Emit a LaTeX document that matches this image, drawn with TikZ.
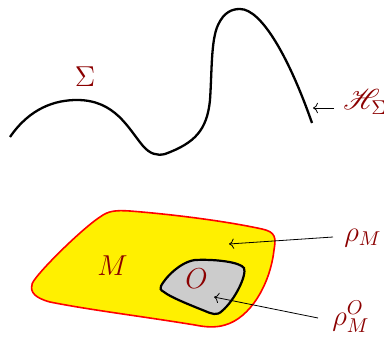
\documentclass[tikz,border=0pt]{standalone}
\usepackage{mathrsfs}
\usetikzlibrary{positioning, calc, arrows.meta}
\usepackage{xcolor}
\definecolor{labelred}{RGB}{139,0,0}
\definecolor{regionyellow}{RGB}{255,240,0}
\definecolor{regiongray}{RGB}{204,204,204}

\begin{document}
\begin{tikzpicture}[x=0.5pt, y=-0.5pt, font=\Large, >={To}]
  \useasboundingbox (0,0) rectangle (384,336);
  \tikzset{
    lbl/.style={labelred, inner sep=0pt, anchor=base west},
    pointer/.style={->, black, line width=0.4pt}
  }
  % the hypersurface Sigma
  \draw[black, line width=1.15pt]
    (10,137) .. controls (30,108) and (55,100) .. (77,100)
    .. controls (115,100) and (128,128) .. (143,146)
    .. controls (150,154) and (157,156) .. (165,154)
    .. controls (195,143) and (207,130) .. (210,100)
    .. controls (212,70) and (211,40) .. (218,25)
    .. controls (224,12) and (232,9) .. (240,9)
    .. controls (262,9) and (290,60) .. (312,123);
  \coordinate (sigend) at (313,108);
  \node[lbl, anchor=base] (sigma) at (85,87) {$\Sigma$};
  \node[lbl] (hsig) at (343,110) {$\mathscr{H}_\Sigma$};
  \draw[pointer] (hsig.west |- sigend) ++(-9,0) -- (sigend);
  % the region M with the subregion O
  \draw[red, fill=regionyellow, line width=0.8pt]
    (32,285) .. controls (30,280) and (80,230) .. (100,217)
    .. controls (108,211) and (115,210) .. (130,211)
    .. controls (180,215) and (230,222) .. (262,229)
    .. controls (276,232) and (276,238) .. (274,250)
    .. controls (270,285) and (250,318) .. (225,325)
    .. controls (215,328) and (205,327) .. (195,325)
    .. controls (140,316) and (90,310) .. (50,302)
    .. controls (35,298) and (30,292) .. cycle;
  \draw[black, fill=regiongray, line width=1.1pt]
    (161,286) .. controls (165,278) and (180,262) .. (195,260)
    .. controls (215,259) and (240,262) .. (244,268)
    .. controls (247,275) and (235,300) .. (222,311)
    .. controls (217,316) and (212,314) .. (205,311)
    .. controls (190,305) and (170,297) .. (164,292)
    .. controls (160,290) and (160,288) .. cycle;
  \node[lbl] (mlabel) at (97,275) {$M$};
  \node[lbl] (olabel) at (185,288) {$O$};
  \coordinate (rhoMend) at (229,244);
  \coordinate (rhoMOend) at (214,297);
  \node[lbl] (rhoM) at (344,241) {$\rho_M$};
  \node[lbl] (rhoMO) at (332,325) {$\rho_M^O$};
  \draw[pointer] (333,237) -- (rhoMend);
  \draw[pointer] (318,318) -- (rhoMOend);
\end{tikzpicture}
\end{document}
